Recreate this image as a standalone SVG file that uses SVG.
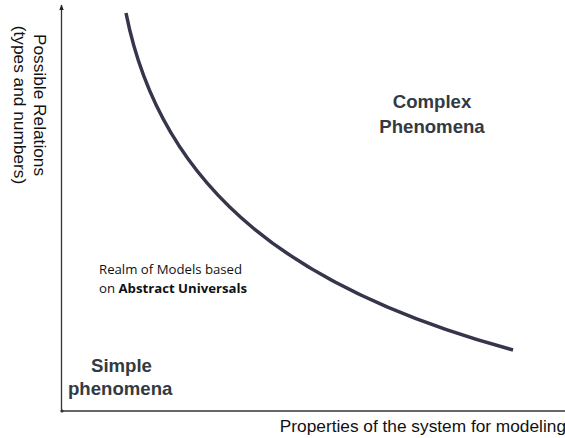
<svg xmlns="http://www.w3.org/2000/svg" width="565" height="438" viewBox="0 0 565 438">
<style>
.ax{stroke:#333;stroke-width:1.3;fill:none}
.lbl{font-family:"Liberation Sans",Arial,sans-serif;font-size:17.3px;fill:#111}
.big{font-family:"Liberation Sans",Arial,sans-serif;font-size:18.6px;font-weight:bold;fill:#333a42}
.small{font-family:"Open Sans",sans-serif;font-size:13.2px;fill:#111}
</style>
<defs>
<marker id="arr" viewBox="0 0 10 10" refX="9" refY="5" markerWidth="6" markerHeight="6" orient="auto-start-reverse" markerUnits="userSpaceOnUse">
<path d="M0,1 L10,5 L0,9 Z" fill="#222"/>
</marker>
</defs>
<rect width="565" height="438" fill="#fff"/>
<g id="connectors">
<path class="ax" d="M61.5,411 L61.5,5" marker-end="url(#arr)"/>
<path class="ax" d="M61.5,411 L565,411"/>
<circle cx="62" cy="411" r="1.6" fill="#333"/>
<path id="curve" d="M126,13 C162,195 300,292 513,350" stroke="#35354b" stroke-width="3.5" fill="none"/>
</g>
<g id="ylabel">
<text class="lbl" transform="translate(34,105) rotate(90)" text-anchor="middle">Possible Relations</text>
<text class="lbl" transform="translate(14,105) rotate(90)" text-anchor="middle">(types and numbers)</text>
</g>
<g id="xlabel">
<text class="lbl" x="566" y="432" text-anchor="end">Properties of the system for modeling</text>
</g>
<g id="complex">
<text class="big" x="432" y="108" text-anchor="middle">Complex</text>
<text class="big" x="432" y="133" text-anchor="middle">Phenomena</text>
</g>
<g id="simple">
<text class="big" x="91" y="372">Simple</text>
<text class="big" x="68" y="395">phenomena</text>
</g>
<g id="realm">
<text class="small" x="99" y="274">Realm of Models based</text>
<text class="small" x="99" y="293">on <tspan font-weight="bold">Abstract Universals</tspan></text>
</g>
</svg>
